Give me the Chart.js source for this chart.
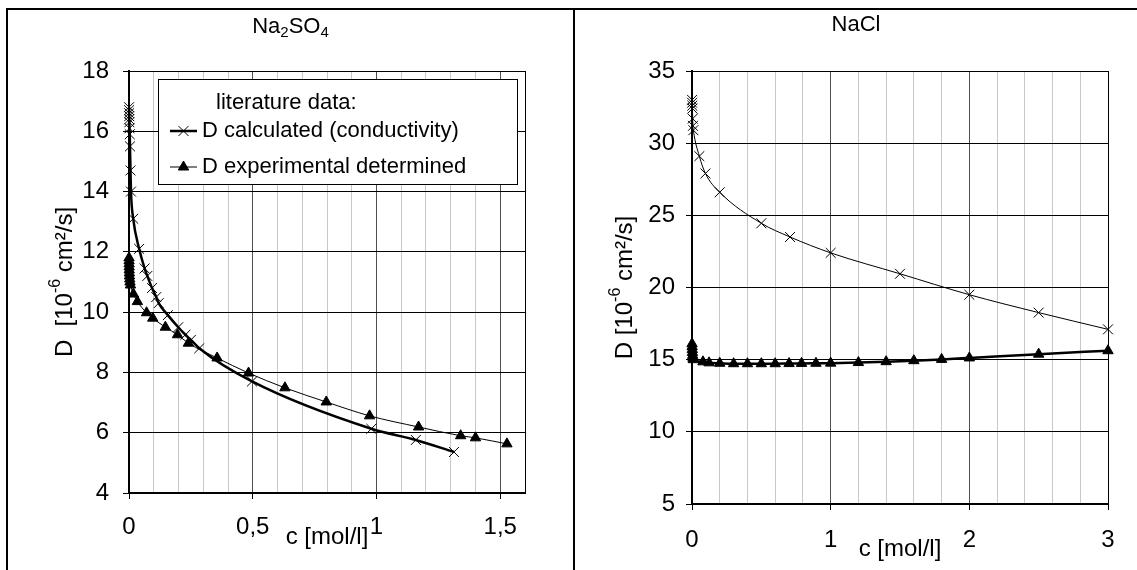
<!DOCTYPE html>
<html>
<head>
<meta charset="utf-8">
<script src="https://cdn.jsdelivr.net/npm/chart.js@4.4.1/dist/chart.umd.min.js"></script>
<style>
  body { margin: 0; background: #fff; }
  #frame { position: absolute; left: 6px; top: 8px; width: 1131px; height: 562px;
           border-top: 2px solid #000; border-left: 2px solid #000; }
  #divider { position: absolute; left: 573px; top: 10px; width: 2px; height: 560px; background: #000; }
  #left { position: absolute; left: 8px; top: 10px; }
  #right { position: absolute; left: 575px; top: 10px; }
</style>
</head>
<body>
<div id="frame"></div>
<canvas id="left" width="565" height="560"></canvas>
<div id="divider"></div>
<canvas id="right" width="562" height="560"></canvas>
<script>
// Na2SO4 - D calculated from conductivity (c in mol/l, D in 1e-6 cm2/s)
var na2so4CalcC = [0.0002, 0.0004, 0.0006, 0.0008, 0.001, 0.0015, 0.002, 0.003, 0.004, 0.006, 0.008,
                   0.017, 0.041, 0.063, 0.074, 0.093, 0.11, 0.12, 0.157, 0.199, 0.228, 0.25, 0.284,
                   0.497, 0.979, 1.159, 1.313];
var na2so4CalcD = [16.8, 16.7, 16.6, 16.5, 16.4, 16.3, 16.1, 15.9, 15.5, 14.7, 14.0,
                   13.1, 12.1, 11.45, 11.2, 10.8, 10.5, 10.3, 9.9, 9.5, 9.25, 9.08, 8.8,
                   7.7, 6.13, 5.76, 5.36];
// Na2SO4 - D experimental
var na2so4ExpC = [0.0002, 0.0004, 0.0006, 0.0008, 0.001, 0.0015, 0.002, 0.003, 0.004, 0.006,
                  0.018, 0.034, 0.071, 0.096, 0.147, 0.196, 0.24, 0.356, 0.483, 0.63, 0.797,
                  0.972, 1.17, 1.34, 1.40, 1.527];
var na2so4ExpD = [11.8, 11.7, 11.6, 11.5, 11.4, 11.3, 11.2, 11.1, 11.0, 10.9,
                  10.6, 10.35, 9.98, 9.8, 9.5, 9.25, 8.97, 8.48, 7.98, 7.49, 7.02,
                  6.56, 6.19, 5.9, 5.83, 5.63];

// NaCl - D calculated from conductivity
var naclCalcC = [0.0005, 0.001, 0.002, 0.003, 0.005, 0.007, 0.01, 0.053, 0.097, 0.2, 0.5,
                 0.707, 1.0, 1.5, 2.0, 2.5, 3.0];
var naclCalcD = [33.0, 32.8, 32.6, 32.4, 31.7, 31.2, 30.9, 29.1, 27.9, 26.6, 24.45,
                 23.5, 22.4, 20.95, 19.5, 18.26, 17.1];
// NaCl - D experimental
var naclExpC = [0.0005, 0.001, 0.002, 0.003, 0.005, 0.007, 0.01, 0.079, 0.123, 0.2, 0.3, 0.4,
                0.5, 0.6, 0.7, 0.79, 0.894, 1.0, 1.2, 1.4, 1.6, 1.8, 2.0, 2.5, 3.0];
var naclExpD = [16.1, 15.9, 15.7, 15.5, 15.3, 15.1, 15.0, 14.85, 14.78, 14.75, 14.72, 14.72,
                14.72, 14.72, 14.73, 14.74, 14.75, 14.76, 14.8, 14.86, 14.93, 15.02, 15.12, 15.38, 15.62];

var seriesLabels = ["D calculated (conductivity)", "D experimental determined"];
var legendTitle = "literature data:";
var na2so4MajorTicks = [0, 0.5, 1, 1.5];
var naclMajorTicks = [0, 1, 2, 3];

var FONT = "'Liberation Sans', Arial, sans-serif";
var TICK_SIZE = 24;

function pts(cs, ds) {
  return cs.map(function (c, i) { return { x: c, y: ds[i] }; });
}

function calcSet(cs, ds, width) {
  return {
    label: seriesLabels[0], data: pts(cs, ds),
    borderColor: '#000', borderWidth: width, backgroundColor: '#000',
    pointStyle: 'crossRot', pointRadius: 7, pointBorderWidth: 1, pointBorderColor: '#000',
    cubicInterpolationMode: 'monotone', clip: false
  };
}
function expSet(cs, ds, width) {
  return {
    label: seriesLabels[1], data: pts(cs, ds),
    borderColor: '#000', borderWidth: width, backgroundColor: '#000',
    pointStyle: 'triangle', pointRadius: 6, pointBorderWidth: 1, pointBorderColor: '#000',
    pointBackgroundColor: '#000',
    cubicInterpolationMode: 'monotone', clip: false
  };
}

// text with sub/superscripts, centred on (x, y)
function drawRich(ctx, parts, x, y, size) {
  var w = 0;
  parts.forEach(function (p) {
    ctx.font = (p[1] ? Math.round(size * 0.68) : size) + 'px ' + FONT;
    p.w = ctx.measureText(p[0]).width;
    w += p.w;
  });
  var cx = x - w / 2;
  ctx.textAlign = 'left';
  ctx.textBaseline = 'middle';
  parts.forEach(function (p) {
    ctx.font = (p[1] ? Math.round(size * 0.68) : size) + 'px ' + FONT;
    var dy = p[1] === 'sub' ? size * 0.26 : (p[1] === 'sup' ? -size * 0.38 : 0);
    ctx.fillText(p[0], cx, y + dy);
    cx += p.w;
  });
}

function makePanel(id, cfg) {
  var isMajor = function (v) {
    return cfg.majors.some(function (m) { return Math.abs(m - v) < 1e-6; });
  };
  var textPlugin = {
    id: 'panelText',
    afterDraw: function (chart) {
      var ctx = chart.ctx, a = chart.chartArea;
      ctx.save();
      ctx.fillStyle = '#000';
      drawRich(ctx, cfg.title, chart.width / 2, cfg.titleY, 22);
      ctx.translate(cfg.yTitleX, (a.top + a.bottom) / 2);
      ctx.rotate(-Math.PI / 2);
      drawRich(ctx, cfg.yTitle, 0, 0, TICK_SIZE);
      ctx.restore();
    }
  };
  var legendPlugin = {
    id: 'boxLegend',
    afterDraw: function (chart) {
      var L = cfg.legend;
      if (!L) return;
      var ctx = chart.ctx, a = chart.chartArea;
      var x = Math.round(a.left + L.dx), y = Math.round(a.top + L.dy);
      ctx.save();
      ctx.fillStyle = '#fff';
      ctx.fillRect(x, y, L.w, L.h);
      ctx.strokeStyle = '#000';
      ctx.lineWidth = 1;
      ctx.strokeRect(x + 0.5, y + 0.5, L.w, L.h);
      ctx.fillStyle = '#000';
      ctx.font = L.size + 'px ' + FONT;
      ctx.textBaseline = 'middle';
      ctx.textAlign = 'left';
      ctx.fillText(legendTitle, x + L.titleX, y + L.rows[0]);
      chart.data.datasets.forEach(function (ds, i) {
        var ry = y + L.rows[i + 1];
        ctx.strokeStyle = ds.borderColor;
        ctx.lineWidth = ds.borderWidth;
        ctx.beginPath();
        ctx.moveTo(x + L.line0, ry);
        ctx.lineTo(x + L.line1, ry);
        ctx.stroke();
        ctx.fillStyle = '#000';
        ctx.strokeStyle = '#000';
        ctx.lineWidth = ds.pointBorderWidth;
        Chart.helpers.drawPoint(ctx, {
          pointStyle: ds.pointStyle, radius: ds.pointRadius,
          borderWidth: ds.pointBorderWidth, rotation: 0
        }, x + (L.line0 + L.line1) / 2, ry);
        ctx.font = L.size + 'px ' + FONT;
        ctx.fillText(ds.label, x + L.textX, ry);
      });
      ctx.restore();
    }
  };

  new Chart(document.getElementById(id), {
    type: 'line',
    data: { datasets: cfg.datasets },
    options: {
      responsive: false,
      animation: false,
      devicePixelRatio: 1,
      layout: { padding: { top: cfg.padTop, right: cfg.padRight, left: 0, bottom: 0 } },
      plugins: { legend: { display: false }, title: { display: false }, tooltip: { enabled: false } },
      scales: {
        x: {
          type: 'linear', min: 0, max: cfg.xMax,
          afterFit: function (s) { s.height = cfg.xAxisH; },
          ticks: {
            stepSize: cfg.xStep, autoSkip: false, maxRotation: 0, minRotation: 0,
            padding: cfg.xTickPad, color: '#000',
            font: { family: FONT, size: TICK_SIZE },
            callback: function (v) {
              return isMajor(v) ? String(Math.round(v * 10) / 10).replace('.', ',') : '';
            }
          },
          grid: {
            color: function (c) {
              var v = c.tick ? c.tick.value : 0;
              if (Math.abs(v - cfg.xMax) < 1e-6) return '#000';
              return isMajor(v) ? '#505050' : '#c8c8c8';
            },
            lineWidth: 1, tickLength: 6,
            tickColor: function (c) { return c.tick && isMajor(c.tick.value) ? '#000' : 'rgba(0,0,0,0)'; }
          },
          border: { color: '#000', width: 2 },
          title: {
            display: true, text: 'c [mol/l]', color: '#000',
            font: { family: FONT, size: TICK_SIZE }, padding: cfg.xTitlePad
          }
        },
        y: {
          min: cfg.yMin, max: cfg.yMax,
          afterFit: function (s) { s.width = cfg.yAxisW; },
          ticks: { stepSize: cfg.yStep, padding: cfg.yTickPad, color: '#000',
                   font: { family: FONT, size: TICK_SIZE } },
          grid: { color: '#000', lineWidth: 1, tickLength: 6, tickColor: '#000' },
          border: { color: '#000', width: 2 }
        }
      }
    },
    plugins: [textPlugin, legendPlugin]
  });
}

makePanel('left', {
  datasets: [calcSet(na2so4CalcC, na2so4CalcD, 2.5), expSet(na2so4ExpC, na2so4ExpD, 1)],
  majors: na2so4MajorTicks,
  xMax: 1.6, xStep: 0.1, yMin: 4, yMax: 18, yStep: 2,
  padTop: 61, padRight: 48, xAxisH: 77, yAxisW: 121,
  xTickPad: 14, yTickPad: 14, xTitlePad: 18,
  title: [['Na', ''], ['2', 'sub'], ['SO', ''], ['4', 'sub']], titleY: 17,
  yTitle: [['D  [10', ''], ['-6', 'sup'], [' cm\u00b2/s]', '']], yTitleX: 57,
  legend: { dx: 28.5, dy: 8, w: 359, h: 105, size: 22, titleX: 58, rows: [24, 52, 88],
            line0: 12, line1: 39, textX: 44 }
});

makePanel('right', {
  datasets: [calcSet(naclCalcC, naclCalcD, 1), expSet(naclExpC, naclExpD, 2.5)],
  majors: naclMajorTicks,
  xMax: 3, xStep: 0.2, yMin: 5, yMax: 35, yStep: 5,
  padTop: 61, padRight: 29, xAxisH: 66, yAxisW: 117,
  xTickPad: 16, yTickPad: 11, xTitlePad: 6,
  title: [['NaCl', '']], titleY: 15,
  yTitle: [['D [10', ''], ['-6', 'sup'], [' cm\u00b2/s]', '']], yTitleX: 50,
  legend: null
});
</script>
</body>
</html>
